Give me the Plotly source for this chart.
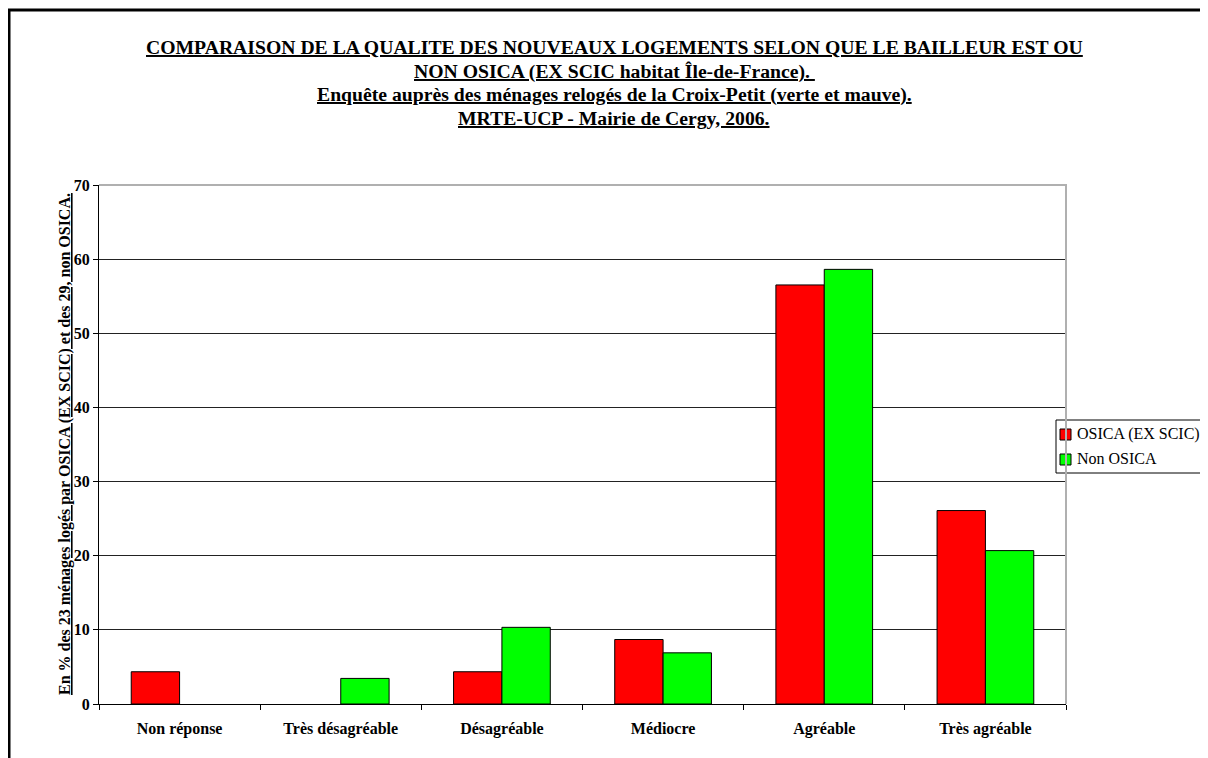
import plotly.graph_objects as go

categories = ["Non réponse", "Très désagréable", "Désagréable", "Médiocre", "Agréable", "Très agréable"]
osica = [4.35, 0, 4.35, 8.7, 56.52, 26.09]
non_osica = [0, 3.45, 10.34, 6.9, 58.62, 20.69]
series_names = ["OSICA (EX SCIC)", "Non OSICA"]
series_colors = ["#ff0000", "#00ff00"]
title_lines = [
    "COMPARAISON DE LA QUALITE DES NOUVEAUX LOGEMENTS SELON QUE LE BAILLEUR EST OU",
    "NON OSICA (EX SCIC habitat Île-de-France). ",
    "Enquête auprès des ménages relogés de la Croix-Petit (verte et mauve).",
    "MRTE-UCP - Mairie de Cergy, 2006.",
]
y_title = "En % des 23 ménages logés par OSICA (EX SCIC) et des 29, non OSICA."
y_ticks = [0, 10, 20, 30, 40, 50, 60, 70]

# page offset (browser body margin)
OFF = 8
W, H = 1200, 750
L, R, T, B = 99 - OFF, 1066 - OFF, 185 - OFF, 704 - OFF
FONT = "Liberation Serif, Times New Roman, serif"

def px(x):
    return (x - OFF - L) / (R - L)

def py(y):
    return (B - (y - OFF)) / (B - T)

fig = go.Figure()
for name, vals, col in zip(series_names, [osica, non_osica], series_colors):
    fig.add_trace(go.Bar(
        x=categories, y=vals, name=name, showlegend=False,
        marker=dict(color=col, line=dict(color="#000000",
                                         width=[0 if v == 0 else 1 for v in vals]))))

fig.update_layout(
    width=W, height=H,
    margin=dict(l=L, r=W - R, t=T, b=H - B, pad=0),
    paper_bgcolor="white", plot_bgcolor="white",
    barmode="group", bargap=0.4, bargroupgap=0,
    font=dict(family=FONT, color="black", size=16),
)
fig.update_xaxes(
    type="category", showline=True, linecolor="black", linewidth=1,
    ticks="outside", tickson="boundaries", ticklen=5, tickcolor="black",
    tickfont=dict(family=FONT, size=16, color="black"),
    ticklabelstandoff=10,
    tickprefix="<b>", ticksuffix="</b>", showgrid=False, zeroline=False,
)
fig.update_yaxes(
    range=[0, 70], tickvals=y_ticks, ticktext=[f"<b>{v}</b>" for v in y_ticks],
    showline=True, linecolor="black", linewidth=1,
    ticks="outside", ticklen=5, tickcolor="black",
    tickfont=dict(family=FONT, size=16, color="black"),
    showgrid=True, gridcolor="#222222", gridwidth=1, zeroline=False,
)

# y-axis title
fig.add_annotation(text=f"<b><u>{y_title}</u></b>", xref="paper", yref="paper",
                   x=px(65), y=py(444), xanchor="center", yanchor="middle",
                   textangle=-90, showarrow=False,
                   font=dict(family=FONT, size=16, color="black"))

title_y = [47, 71, 95, 118]
for line, yy in zip(title_lines, title_y):
    fig.add_annotation(text=f"<b><u>{line}</u></b>", xref="paper", yref="paper",
                       x=px(614), y=py(yy), xanchor="center", yanchor="middle",
                       showarrow=False, font=dict(family=FONT, size=19.7, color="black"))

# legend (drawn)
fig.add_shape(type="rect", xref="paper", yref="paper",
              x0=px(1056), x1=px(1205), y0=py(473), y1=py(420),
              line=dict(color="black", width=1), fillcolor="white", layer="above")
leg_y = [434, 459]
for name, col, yy in zip(series_names, series_colors, leg_y):
    fig.add_shape(type="rect", xref="paper", yref="paper",
                  x0=px(1060), x1=px(1071), y0=py(yy + 6), y1=py(yy - 5),
                  line=dict(color="black", width=1), fillcolor=col, layer="above")
    fig.add_annotation(text=name, xref="paper", yref="paper",
                       x=px(1075), y=py(yy), xanchor="left", yanchor="middle",
                       showarrow=False, font=dict(family=FONT, size=16, color="black"))

# outer frame (top and left) and plot area top/right border
fig.add_shape(type="path", xref="paper", yref="paper",
              path=f"M {px(9)} {py(770)} L {px(9)} {py(10)} L {px(1220)} {py(10)}",
              line=dict(color="black", width=3))
fig.add_shape(type="path", xref="paper", yref="paper",
              path="M 0 1 L 1 1 L 1 0",
              line=dict(color="#b0b0b0", width=2))

fig.write_html("out.html")
